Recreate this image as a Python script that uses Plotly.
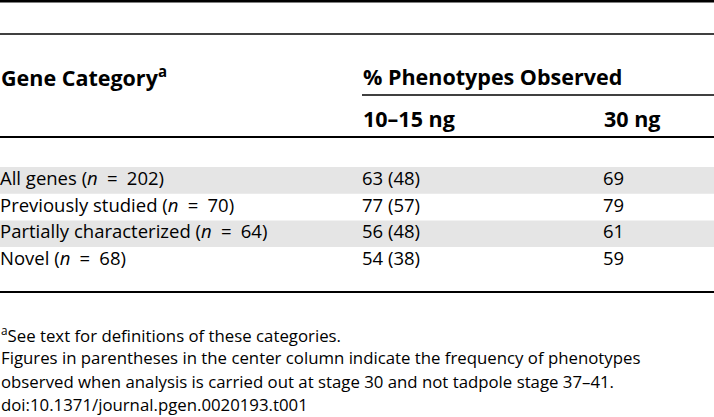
import plotly.graph_objects as go

# table data
categories = ["All genes", "Previously studied", "Partially characterized", "Novel"]
n_genes = [202, 70, 64, 68]
pct_low_dose = [63, 77, 56, 54]
pct_low_dose_stage30 = [48, 57, 48, 38]
pct_high_dose = [69, 79, 61, 59]

col_headers = ["10–15 ng", "30 ng"]
footnotes = [
    "<sup>a</sup>See text for definitions of these categories.",
    "Figures in parentheses in the center column indicate the frequency of phenotypes",
    "observed when analysis is carried out at stage 30 and not tadpole stage 37–41.",
    "doi:10.1371/journal.pgen.0020193.t001",
]

# layout in pixels (axes map 1:1 to the 714x417 page)
W, H = 714, 417
col_x = [0, 362, 603]
row_top, row_h = 167, 26.7
FONT = "Open Sans"
FS_BODY, FS_HEAD, FS_NOTE = 18.5, 21.5, 16.8

rows = list(range(len(categories)))
row_y = [row_top + row_h * (i + 0.5) for i in rows]

EQ = "\u2002=\u2002"  # wider spacing round the equals sign, as in the print
label_txt = [f"{c} (<i>n</i>{EQ}{n})" for c, n in zip(categories, n_genes)]
low_txt = [f"{a} ({b})" for a, b in zip(pct_low_dose, pct_low_dose_stage30)]
high_txt = [str(v) for v in pct_high_dose]

fig = go.Figure()
for x, txt in zip(col_x, [label_txt, low_txt, high_txt]):
    fig.add_trace(go.Scatter(
        x=[x] * len(txt), y=row_y, text=txt, mode="text",
        textposition="middle right", textfont=dict(family=FONT, size=FS_BODY, color="black"),
        hoverinfo="skip", showlegend=False))

# shaded rows
for i in rows:
    if i % 2 == 0:
        fig.add_shape(type="rect", xref="x", yref="y", x0=0, x1=W,
                      y0=row_top + row_h * i, y1=row_top + row_h * (i + 1),
                      fillcolor="#e5e5e5", line_width=0, layer="below")

# rules
for y, x0, lw in [(1.2, 0, 2.5), (34, 0, 1.6), (95, 362, 1.4), (137, 0, 2), (292, 0, 2)]:
    fig.add_shape(type="line", xref="x", yref="y", x0=x0, x1=W, y0=y, y1=y,
                  line=dict(color="black", width=lw))

def label(x, y, text, size, bold=False):
    fig.add_annotation(x=x, y=y, xref="x", yref="y", text=f"<b>{text}</b>" if bold else text,
                       showarrow=False, xanchor="left", yanchor="middle", borderpad=0,
                       font=dict(family=FONT, size=size, color="black"))

label(col_x[0], 76, "Gene Category<sup>a</sup>", FS_HEAD, bold=True)
label(col_x[1], 76, "% Phenotypes Observed", FS_HEAD, bold=True)
for x, t in zip(col_x[1:], col_headers):
    label(x, 118, t, FS_HEAD, bold=True)
for k, t in enumerate(footnotes):
    label(0, 334 + 23.5 * k, t, FS_NOTE)

fig.update_layout(
    width=W, height=H, margin=dict(l=0, r=0, t=0, b=0),
    paper_bgcolor="white", plot_bgcolor="white",
    xaxis=dict(range=[0, W], visible=False, fixedrange=True),
    yaxis=dict(range=[H, 0], visible=False, fixedrange=True),
)
fig.write_html("out.html", config={"displayModeBar": False},
               post_script="document.body.style.margin='0';")
